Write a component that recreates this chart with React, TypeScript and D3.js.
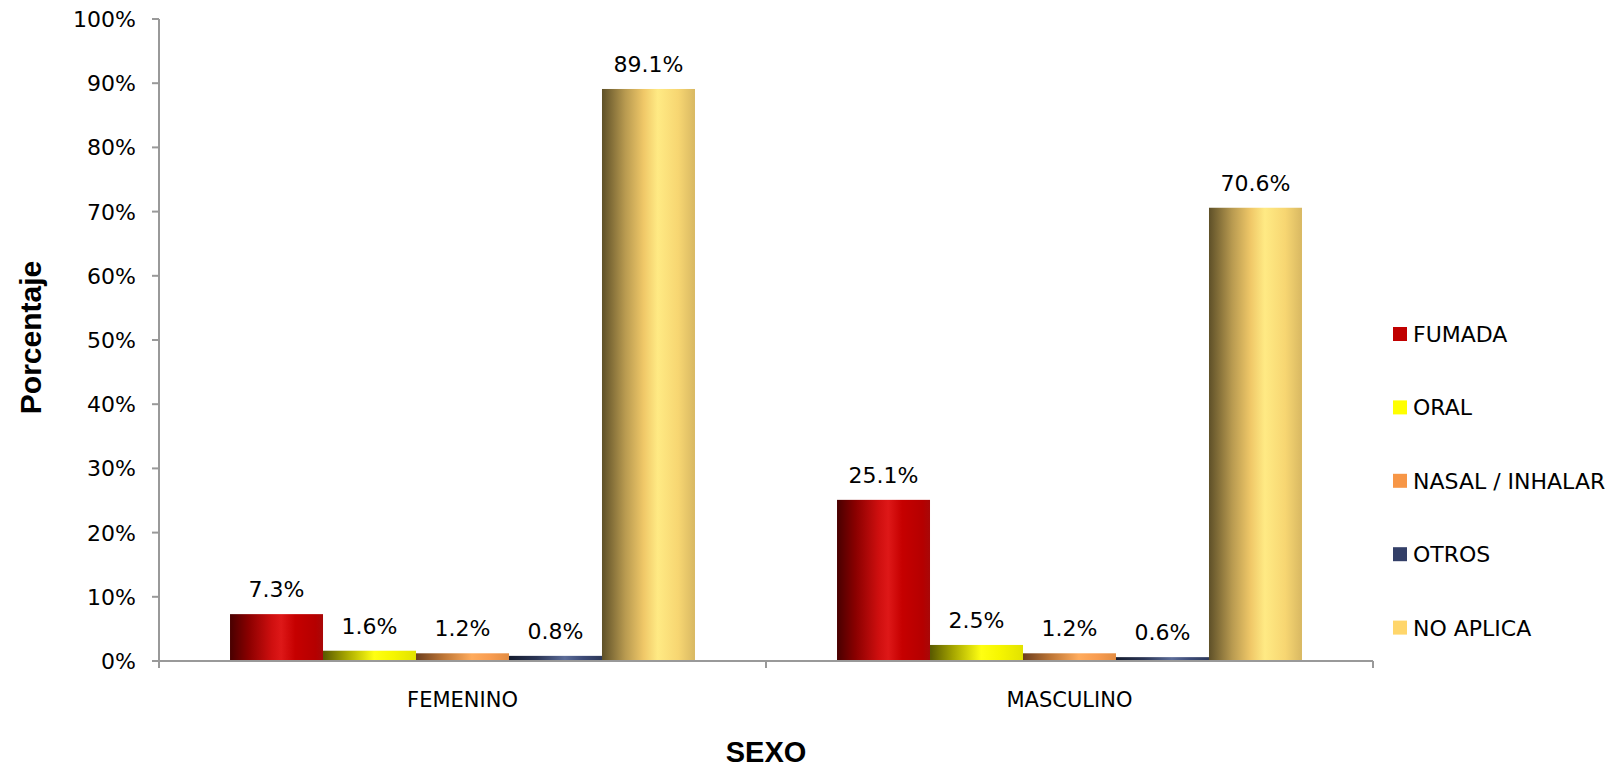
import React from "react";
import * as d3 from "d3";

const categories = ["FEMENINO", "MASCULINO"];
const seriesNames = ["FUMADA", "ORAL", "NASAL / INHALAR", "OTROS", "NO APLICA"];
const fumada = [7.3, 25.1];
const oral = [1.6, 2.5];
const nasal = [1.2, 1.2];
const otros = [0.8, 0.6];
const noAplica = [89.1, 70.6];
const yTicks = [0, 10, 20, 30, 40, 50, 60, 70, 80, 90, 100];

const seriesValues = [fumada, oral, nasal, otros, noAplica];
const legendColors = ["#c00000", "#ffff00", "#f79646", "#333f68", "#ffd66b"];
const gradStops: [number, string][][] = [
  [[0, "#480000"], [0.2, "#8a0000"], [0.45, "#cf0f0f"], [0.55, "#de1818"], [0.7, "#c60000"], [0.92, "#b50000"], [1, "#a80808"]],
  [[0, "#585800"], [0.25, "#a6a600"], [0.55, "#ffff12"], [0.75, "#f6f600"], [1, "#e2e200"]],
  [[0, "#6c3e1e"], [0.3, "#be7636"], [0.6, "#ffab5c"], [0.8, "#f89c50"], [1, "#e28c42"]],
  [[0, "#141b2e"], [0.3, "#2a3555"], [0.6, "#5c6c98"], [0.8, "#3c4a76"], [1, "#2c3858"]],
  [[0, "#5e5028"], [0.25, "#b89a50"], [0.45, "#f0c868"], [0.6, "#ffea84"], [0.82, "#f7d672"], [1, "#d8b862"]],
];

const W = 1624;
const H = 769;
const left = 159;
const right = 1373;
const top = 19;
const bottom = 661;

export default function App() {
  const y = d3.scaleLinear().domain([0, 100]).range([bottom, top]);
  const x0 = d3.scaleBand<string>().domain(categories).range([left, right]).paddingInner(0.234).paddingOuter(0.117);
  const x1 = d3.scaleBand<string>().domain(seriesNames).range([0, x0.bandwidth()]).padding(0);
  const x0full = d3.scaleBand<string>().domain(categories).range([left, right]).padding(0);

  const font = "'DejaVu Sans', sans-serif";
  const titleFont = "'Liberation Sans', Arial, sans-serif";
  const legendY0 = 334;
  const legendStep = 73.4;

  return (
    <svg width={W} height={H} style={{ position: "absolute", left: 0, top: 0, display: "block", background: "#fff" }}>
      <defs>
        {gradStops.map((stops, i) => (
          <linearGradient key={i} id={`g${i}`} x1="0" y1="0" x2="1" y2="0">
            {stops.map(([o, c], j) => (
              <stop key={j} offset={o} stopColor={c} />
            ))}
          </linearGradient>
        ))}
      </defs>

      {/* y axis */}
      <line x1={left} x2={left} y1={y(100)} y2={y(0)} stroke="#999" strokeWidth={2} />
      {yTicks.map((t) => (
        <g key={t}>
          <line x1={left - 7} x2={left} y1={y(t)} y2={y(t)} stroke="#999" strokeWidth={2} />
          <text x={136} y={y(t)} dy="0.36em" textAnchor="end" fontFamily={font} fontSize={22} fill="#000">
            {t}%
          </text>
        </g>
      ))}

      {/* bars */}
      {categories.map((cat, ci) => (
        <g key={cat}>
          {seriesNames.map((s, si) => {
            const v = seriesValues[si][ci];
            const bx = (x0(cat) as number) + (x1(s) as number);
            const by = y(v);
            return (
              <g key={s}>
                <rect x={bx} y={by} width={x1.bandwidth()} height={y(0) - by} fill={`url(#g${si})`} />
                <text x={bx + x1.bandwidth() / 2} y={by - 17} textAnchor="middle" fontFamily={font} fontSize={22} fill="#000">
                  {v.toFixed(1)}%
                </text>
              </g>
            );
          })}
        </g>
      ))}

      {/* x axis */}
      <line x1={left} x2={right} y1={bottom} y2={bottom} stroke="#999" strokeWidth={2} />
      {[left, ...categories.map((c) => (x0full(c) as number) + x0full.bandwidth())].map((tx, i) => (
        <line key={i} x1={tx} x2={tx} y1={bottom} y2={bottom + 7} stroke="#999" strokeWidth={2} />
      ))}
      {categories.map((c) => (
        <text key={c} x={(x0full(c) as number) + x0full.bandwidth() / 2} y={707} textAnchor="middle" fontFamily={font} fontSize={21} fill="#000">
          {c}
        </text>
      ))}

      {/* axis titles */}
      <text x={766} y={762} textAnchor="middle" fontFamily={titleFont} fontWeight="bold" fontSize={29} fill="#000">
        SEXO
      </text>
      <text transform={`translate(41,337.5) rotate(-90)`} textAnchor="middle" fontFamily={titleFont} fontWeight="bold" fontSize={30} fill="#000">
        Porcentaje
      </text>

      {/* legend */}
      {seriesNames.map((s, i) => {
        const cy = legendY0 + i * legendStep;
        return (
          <g key={s}>
            <rect x={1393} y={cy - 7} width={14} height={14} fill={legendColors[i]} />
            <text x={1413} y={cy} dy="0.36em" fontFamily={font} fontSize={22} fill="#000">
              {s}
            </text>
          </g>
        );
      })}
    </svg>
  );
}
